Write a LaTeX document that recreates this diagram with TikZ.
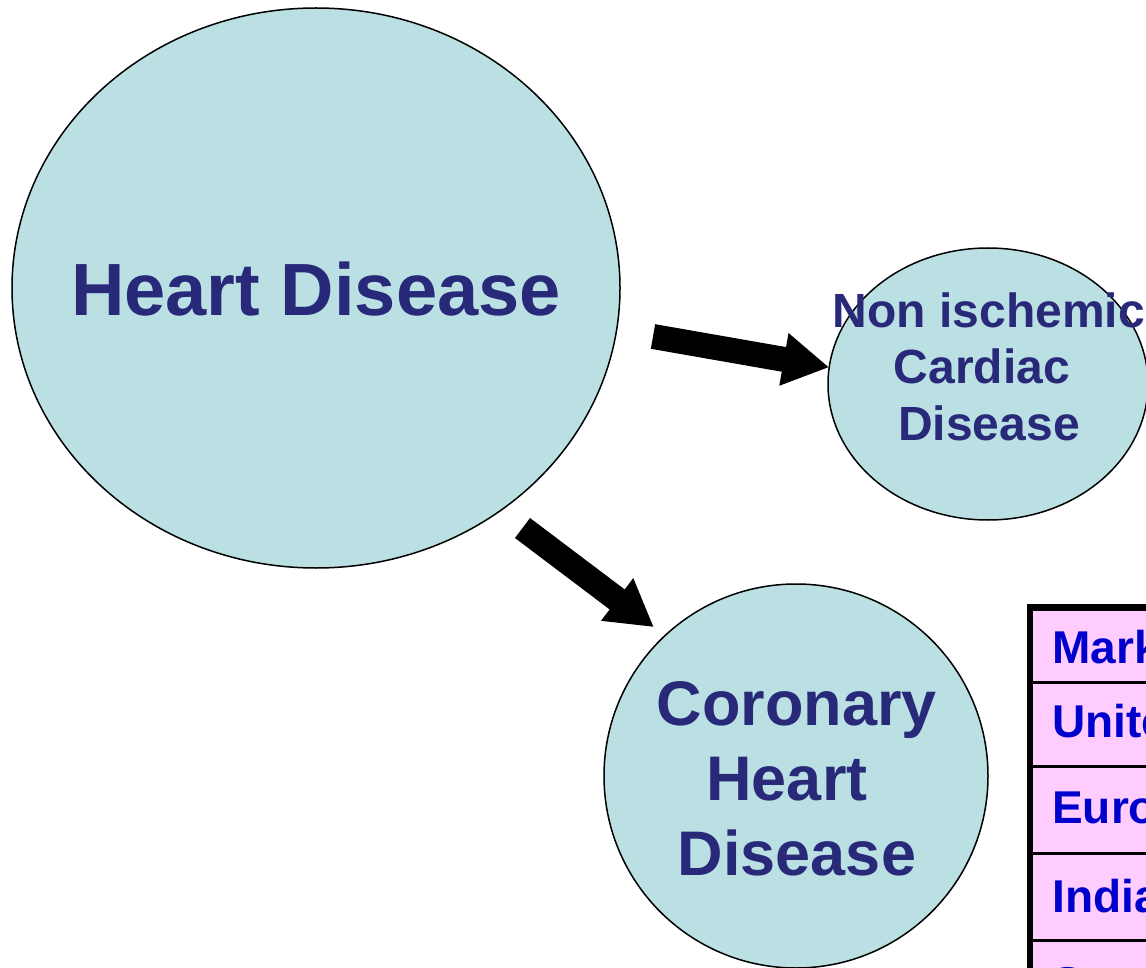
\documentclass[tikz,border=0pt]{standalone}
\usepackage{fontspec}
\setmainfont{Liberation Sans}
\usetikzlibrary{shapes.geometric,arrows.meta}
\definecolor{bubblefill}{HTML}{BBE0E3}
\definecolor{navy}{HTML}{29297A}
\definecolor{rowpink}{HTML}{FFCCFF}
\definecolor{rowblue}{HTML}{0000CC}
\begin{document}
\begin{tikzpicture}[x=1pt,y=-1pt,
  bubble/.style={ellipse,draw=black,line width=1.5pt,fill=bubblefill,inner sep=0pt,outer sep=0pt},
  bubbletext/.style={text=navy,align=center,inner sep=0pt},
  bigarrow/.style={line width=25pt,-{Triangle[length=46pt,width=50pt]}},
  row/.style={rectangle,draw=black,line width=3pt,fill=rowpink,anchor=north west,minimum width=200pt,inner sep=0pt,outer sep=0pt},
  rowtext/.style={anchor=base west,text=rowblue,font=\fontsize{46}{50}\selectfont\bfseries,inner sep=0pt}]
\useasboundingbox (0,0) rectangle (1146,968);
\clip (0,0) rectangle (1146,968);
\fill[white] (0,0) rectangle (1146,968);

% bubbles
\node[bubble,minimum width=608pt,minimum height=560pt] (hd) at (316,288) {};
\node[bubbletext,font=\fontsize{74}{80}\selectfont\bfseries] (hdtext) at (316,289) {Heart Disease};

\node[bubble,minimum width=320pt,minimum height=272pt] (nic) at (988,384) {};
\node[bubbletext,font=\fontsize{48}{56.5}\selectfont\bfseries] (nictext) at (989,366.5) {Non ischemic\\Cardiac\rule{14pt}{0pt}\\Disease};

\node[bubble,minimum width=384pt,minimum height=384pt] (chd) at (796,776) {};
\node[bubbletext,font=\fontsize{63}{75}\selectfont\bfseries] (chdtext) at (797,779) {Coronary\\Heart\rule{20pt}{0pt}\\Disease};

% arrows
\coordinate (t1) at (653,336.5);
\coordinate (t2) at (522.5,528);
\draw[bigarrow] (t1) -- (nic.174);
\draw[bigarrow,shorten >=14pt] (t2) -- (chd.133);

% table
\node[row,minimum height=74.5pt] (r1) at (1030,607.5) {};
\node[row,minimum height=84pt] (r2) at (1030,682) {};
\node[row,minimum height=87pt] (r3) at (1030,766) {};
\node[row,minimum height=87pt] (r4) at (1030,853) {};
\node[row,minimum height=87pt] (r5) at (1030,940) {};
\draw[line width=6.5pt] (r5.south west) -- (r1.north west) -- (r1.north east);

\node[rowtext] (m) at (1052,663) {Market};
\node[rowtext] (u) at (1052,737) {United};
\node[rowtext] (e) at (1052,823) {Europe};
\node[rowtext] (i) at (1052,912) {India};
\node[rowtext] (s) at (1052,999) {S};
\end{tikzpicture}
\end{document}
